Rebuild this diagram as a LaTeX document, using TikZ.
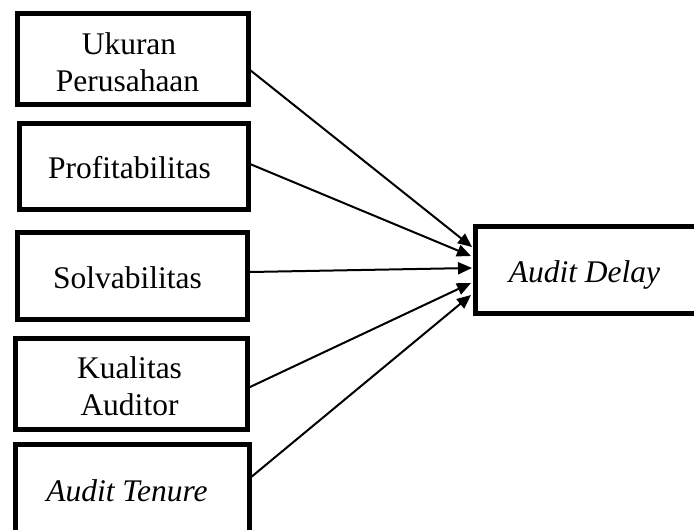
\documentclass[tikz,border=0pt]{standalone}
\usepackage{fontspec}
\setmainfont{Liberation Serif}
\usetikzlibrary{arrows.meta}
\begin{document}
\begin{tikzpicture}[x=1pt,y=-1pt,
  box/.style={draw=black,line width=5pt,rectangle,inner sep=0pt,fill=white},
  lbl/.style={anchor=base,inner sep=0pt,font=\fontsize{31.5}{37}\selectfont},
  conn/.style={line width=2pt,-{Triangle[length=14pt,width=12pt]}}]
\useasboundingbox (0,0) rectangle (694,530);
\begin{scope}
\clip (0,0) rectangle (694,530);
% left boxes
\node[box,minimum width=231pt,minimum height=90.5pt] (b1) at (132.5,58.75) {};
\node[box,minimum width=229pt,minimum height=86.5pt] (b2) at (133.5,166.25) {};
\node[box,minimum width=230pt,minimum height=86.5pt] (b3) at (132.5,275.75) {};
\node[box,minimum width=232pt,minimum height=91pt] (b4) at (131,383.5) {};
\node[box,minimum width=234pt,minimum height=120pt] (b5) at (132,504) {};
% right box
\node[box,minimum width=230pt,minimum height=87pt] (d) at (590,270) {};
\end{scope}
% texts
\node[lbl] (t1a) at (129,54) {Ukuran};
\node[lbl] (t1b) at (127.5,91) {Perusahaan};
\node[lbl] (t2) at (129.5,178) {Profitabilitas};
\node[lbl] (t3) at (127.5,288) {Solvabilitas};
\node[lbl] (t4a) at (129.5,378) {Kualitas};
\node[lbl] (t4b) at (129.5,415) {Auditor};
\node[lbl] (t5) at (127,501) {\itshape Audit Tenure};
\node[lbl] (td) at (584.5,282) {\itshape Audit Delay};
% connector end points
\coordinate (s1) at (250,70);
\coordinate (s2) at (250,164);
\coordinate (s3) at (250,272);
\coordinate (s4) at (250,387);
\coordinate (s5) at (250,478);
\coordinate (e1) at (472,247);
\coordinate (e2) at (471,256);
\coordinate (e3) at (472,268);
\coordinate (e4) at (471,283);
\coordinate (e5) at (471,295);
\draw[conn] (s1) -- (e1);
\draw[conn] (s2) -- (e2);
\draw[conn] (s3) -- (e3);
\draw[conn] (s4) -- (e4);
\draw[conn] (s5) -- (e5);
\end{tikzpicture}
\end{document}
